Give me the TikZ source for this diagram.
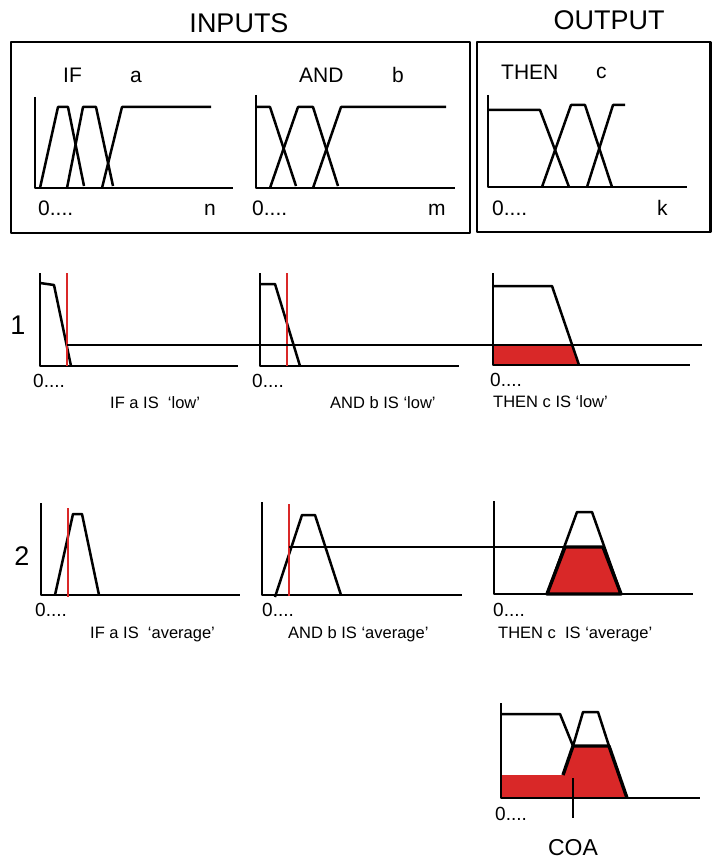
\documentclass[tikz,border=0pt]{standalone}
\usepackage{fontspec}
\setmainfont{Liberation Sans}
\definecolor{fuzzred}{HTML}{D92828}

\begin{document}
\begin{tikzpicture}[x=1pt,y=-1pt,line join=round,frame/.style={line width=2.2pt},axis/.style={line width=2.7pt},mf/.style={line width=2.5pt},probe/.style={line width=2pt,draw=fuzzred},level/.style={line width=2.2pt},rim/.style={line width=3.4pt},head/.style={anchor=base,inner sep=0pt,font=\fontsize{27}{27}\selectfont},tag/.style={anchor=base west,inner sep=0pt,font=\fontsize{21}{21}\selectfont},zero/.style={anchor=base west,inner sep=0pt,font=\fontsize{19}{19}\selectfont},rule/.style={anchor=base west,inner sep=0pt,font=\fontsize{16.5}{16.5}\selectfont}]
 \useasboundingbox (0,0) rectangle (712,861);
 % headings and frames
 \node[head] (inputs) at (239,33) {INPUTS};
 \node[head] (output) at (609,30) {OUTPUT};
 \draw[frame] (11,42) rectangle (470,233);
 \draw[frame] (477,42) rectangle (710.5,232);
 % input a
 \draw[axis] (35,97) -- (35,188) -- (233,188);
 \draw[mf] (40,188) -- (58,107) -- (68,107) -- (84,186);
 \draw[mf] (67,188) -- (83,107) -- (96,107) -- (113,186);
 \draw[mf] (102,188) -- (122,107) -- (211,107);
 \node[tag] (ifA) at (63,83) {IF};
 \node[tag] (varA) at (130,83) {a};
 \node[tag] (zeroA) at (38,215) {0....};
 \node[tag] (endA) at (204,215) {n};
 % input b
 \draw[axis] (256,95) -- (256,188) -- (455,188);
 \draw[mf] (256,107) -- (270,107) -- (296,186);
 \draw[mf] (270,188) -- (298,107) -- (313,107) -- (338,186);
 \draw[mf] (313,188) -- (341,107) -- (446,107);
 \node[tag] (andB) at (299,83) {AND};
 \node[tag] (varB) at (392,83) {b};
 \node[tag] (zeroB) at (252,215) {0....};
 \node[tag] (endB) at (428,215) {m};
 % output c
 \draw[axis] (488,95) -- (488,187) -- (687,187);
 \draw[mf] (488,110) -- (540,110) -- (569,187);
 \draw[mf] (542,187) -- (571,105) -- (585,105) -- (612,187);
 \draw[mf] (587,187) -- (613,105) -- (625,105);
 \node[tag] (thenC) at (501,80) {THEN};
 \node[tag] (varC) at (596,79) {c};
 \node[tag] (zeroC) at (492,215) {0....};
 \node[tag] (endC) at (657,215) {k};
 % rule 1
 \node[head] (one) at (18,334) {1};
 \fill[fuzzred] (493,345) -- (572,345) -- (579,365) -- (493,365) -- cycle;
 \draw[axis] (40,273) -- (40,366) -- (238,366);
 \draw[mf] (40,283) -- (54,285) -- (71,366);
 \draw[probe] (67,273) -- (67,366);
 \draw[axis] (260,273) -- (260,366) -- (459,366);
 \draw[mf] (260,284) -- (275,284) -- (300,366);
 \draw[probe] (287,273) -- (287,366);
 \draw[axis] (493,273) -- (493,365) -- (690,365);
 \draw[mf] (493,286) -- (552,286) -- (579,365);
 \draw[level] (67,345) -- (702,345);
 \node[zero] (zeroA1) at (33,387) {0....};
 \node[zero] (zeroB1) at (252,387) {0....};
 \node[zero] (zeroC1) at (490,386) {0....};
 \node[rule] (ruleA1) at (110,408) {IF a IS\ \ `low'};
 \node[rule] (ruleB1) at (330,408) {AND b IS `low'};
 \node[rule] (ruleC1) at (493,407) {THEN c IS `low'};
 % rule 2
 \node[head] (two) at (22,565) {2};
 \draw[axis] (41,503) -- (41,595) -- (240,595);
 \draw[mf] (55,595) -- (73,514) -- (82,514) -- (99,595);
 \draw[probe] (68,508) -- (68,597);
 \draw[axis] (262,502) -- (262,595) -- (462,595);
 \draw[mf] (275,597) -- (302,515) -- (315,515) -- (341,595);
 \draw[probe] (289,504) -- (289,596);
 \draw[axis] (494,501) -- (494,594) -- (693,594);
 \draw[mf] (547,594) -- (577,512) -- (592,512) -- (621,594);
 \draw[rim,fill=fuzzred] (547,594) -- (565,547) -- (603,547) -- (621,594) -- cycle;
 \draw[level] (289,547) -- (565,547);
 \node[zero] (zeroA2) at (35,616) {0....};
 \node[zero] (zeroB2) at (262,616) {0....};
 \node[zero] (zeroC2) at (493,616) {0....};
 \node[rule] (ruleA2) at (90,638) {IF a IS\ \ `average'};
 \node[rule] (ruleB2) at (288,638) {AND b IS `average'};
 \node[rule] (ruleC2) at (498,638) {THEN c\ \ IS `average'};
 % aggregate and centroid
 \fill[fuzzred] (501,798) -- (501,775) -- (563,775) -- (573,746) -- (609,746) -- (627,798) -- cycle;
 \draw[rim] (563,775) -- (573,746) -- (609,746) -- (627,798);
 \draw[axis] (501,703) -- (501,798) -- (700,798);
 \draw[mf] (501,714) -- (560,714) -- (573,746) -- (583,712) -- (598,712) -- (609,746);
 \draw[level] (573,778) -- (573,818);
 \node[zero] (zeroD) at (495,820) {0....};
 \node[head,font=\fontsize{23}{23}\selectfont] (coa) at (573,855) {COA};
\end{tikzpicture}
\end{document}
